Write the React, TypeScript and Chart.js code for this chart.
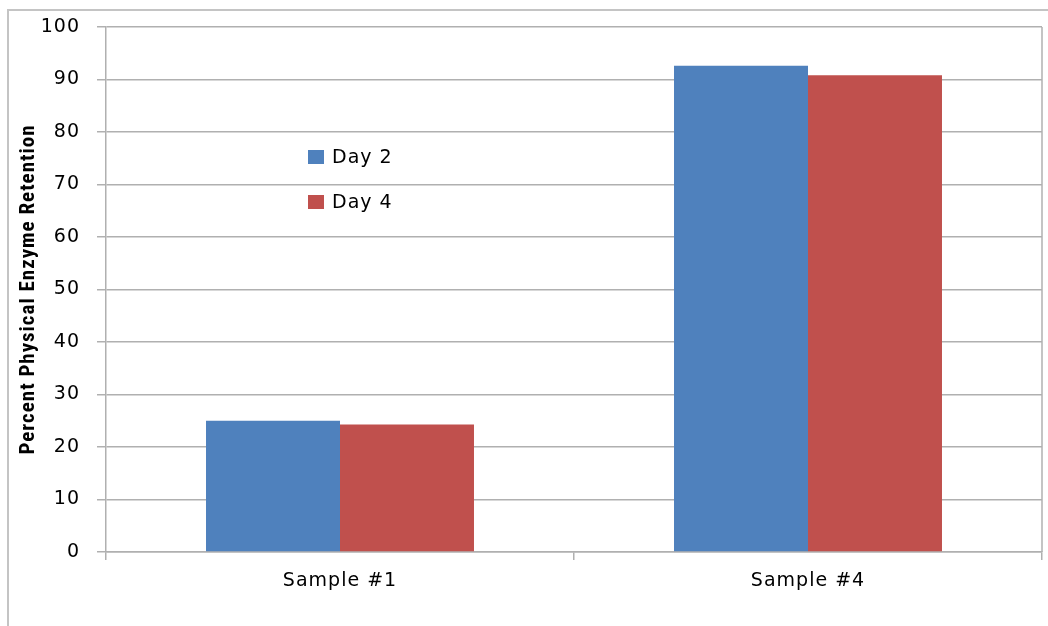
import React, { useEffect, useRef } from "react";
import { Chart, registerables } from "chart.js";

Chart.register(...registerables);

const categories = ["Sample #1", "Sample #4"];
const day2Values = [25.0, 92.6];
const day4Values = [24.3, 90.8];
const seriesLabels = ["Day 2", "Day 4"];
const seriesColors = ["#4F81BD", "#C0504D"];
const yAxisTitle = "Percent Physical Enzyme Retention";

const GRID = "#b0b0b0";
const FONT = "'DejaVu Sans', Verdana, sans-serif";
const FONT_SIZE = 19;

// Outer frame, right edge of the plot, and the floating legend
const decorPlugin = {
  id: "decor",
  beforeDraw(chart: any) {
    const ctx = chart.ctx;
    // wide letter spacing for all text drawn on this canvas
    ctx.letterSpacing = "1px";
    ctx.save();
    ctx.fillStyle = "#ffffff";
    ctx.fillRect(0, 0, chart.width, chart.height);
    ctx.strokeStyle = "#c4c4c4";
    ctx.lineWidth = 2;
    ctx.strokeRect(8, 10, 2000, 2000);
    ctx.restore();
  },
  afterDatasetsDraw(chart: any) {
    const { ctx, chartArea } = chart;
    ctx.save();
    ctx.strokeStyle = GRID;
    ctx.lineWidth = 1.5;
    ctx.beginPath();
    ctx.moveTo(chartArea.right, chartArea.top);
    ctx.lineTo(chartArea.right, chartArea.bottom);
    ctx.stroke();
    ctx.restore();
  },
  afterDraw(chart: any) {
    const ctx = chart.ctx;
    ctx.save();
    ctx.font = `${FONT_SIZE}px ${FONT}`;
    ctx.textBaseline = "middle";
    ctx.textAlign = "left";
    chart.data.datasets.forEach((ds: any, i: number) => {
      const cy = 157 + i * 45;
      ctx.fillStyle = ds.backgroundColor;
      ctx.fillRect(308, cy - 7, 16, 14);
      ctx.fillStyle = "#000000";
      ctx.fillText(ds.label, 332, cy + 1);
    });
    ctx.restore();
  },
};

export default function App() {
  const canvasRef = useRef<HTMLCanvasElement | null>(null);

  useEffect(() => {
    if (!canvasRef.current) return;
    const chart = new Chart(canvasRef.current, {
      type: "bar",
      data: {
        labels: categories,
        datasets: [
          {
            label: seriesLabels[0],
            data: day2Values,
            backgroundColor: seriesColors[0],
            categoryPercentage: 0.5726,
            barPercentage: 1,
          },
          {
            label: seriesLabels[1],
            data: day4Values,
            backgroundColor: seriesColors[1],
            categoryPercentage: 0.5726,
            barPercentage: 1,
          },
        ],
      },
      options: {
        responsive: false,
        animation: false,
        devicePixelRatio: 1,
        layout: { padding: { top: 27, right: 6, left: 0, bottom: 0 } },
        plugins: {
          legend: { display: false },
          tooltip: { enabled: false },
        },
        scales: {
          x: {
            offset: true,
            grid: {
              offset: true,
              drawOnChartArea: false,
              color: GRID,
              lineWidth: 1.5,
              tickLength: 8,
            },
            border: { color: GRID, width: 1.5 },
            ticks: {
              color: "#000000",
              font: { family: FONT, size: FONT_SIZE },
              padding: 10,
            },
            afterFit(scale: any) {
              scale.height = 74;
              scale.paddingLeft = 0;
              scale.paddingRight = 0;
            },
          },
          y: {
            min: 0,
            max: 100,
            ticks: {
              stepSize: 10,
              color: "#000000",
              font: { family: FONT, size: FONT_SIZE },
              padding: 17,
            },
            grid: {
              color: GRID,
              lineWidth: 1.5,
              tickLength: 9,
            },
            border: { color: GRID, width: 1.5 },
            title: {
              display: true,
              text: yAxisTitle,
              color: "#000000",
              font: {
                family: "'Liberation Sans Narrow', 'Roboto Condensed', 'Liberation Sans', sans-serif",
                size: 21,
                weight: "bold",
              },
              padding: { top: 16, bottom: 0 },
            },
            afterFit(scale: any) {
              scale.width = 106;
              scale.paddingTop = 0;
              scale.paddingBottom = 0;
            },
          },
        },
      },
      plugins: [decorPlugin],
    });
    return () => chart.destroy();
  }, []);

  return (
    <div style={{ position: "fixed", left: 0, top: 0, width: 1048, height: 626, overflow: "hidden", background: "#fff" }}>
      <canvas ref={canvasRef} width={1048} height={626} style={{ display: "block" }} />
    </div>
  );
}
